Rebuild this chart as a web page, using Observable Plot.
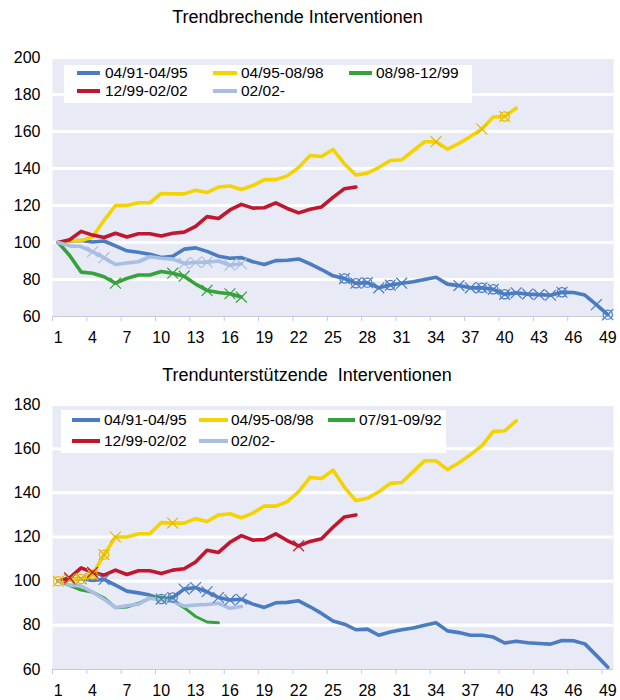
<!DOCTYPE html>
<html><head><meta charset="utf-8">
<script src="https://cdn.jsdelivr.net/npm/d3@7"></script>
<script src="https://cdn.jsdelivr.net/npm/@observablehq/plot@0.6"></script>
<style>
body{margin:0;background:#fff;font-family:"Liberation Sans",Arial,sans-serif;}
#wrap{position:relative;width:620px;height:700px;overflow:hidden;}
.title{position:absolute;left:0;font-size:18px;line-height:18px;color:#000;white-space:pre;text-align:center;}
.legend{position:absolute;background:#fff;}
.item{position:absolute;height:18px;display:flex;align-items:center;font-size:15.5px;color:#000;white-space:nowrap;}
.sw{display:inline-block;height:4px;}
.chart{position:absolute;left:0;}
</style></head><body><div id="wrap"></div>
<script>
// ---- data ----
const xLabels = [1,4,7,10,13,16,19,22,25,28,31,34,37,40,43,46,49];
const yTicksTop = [60,80,100,120,140,160,180,200];
const yTicksBottom = [60,80,100,120,140,160,180];

const names = ["04/91-04/95","04/95-08/98","08/98-12/99","12/99-02/02","02/02-","07/91-09/92"];
const colors = ["#4a7cc2","#f4d300","#36a33a","#c0172f","#a8bee2","#36a33a"];

const s9195 = [100,100.8,101.1,100.3,100.8,98.2,95.5,94.7,93.7,91.9,
  92.6,96.4,97.1,95.2,92.6,91.5,91.8,89.6,88.1,90.2,
  90.4,91.1,88.4,85.4,82,80.5,78,78.3,75.5,77,
  78,78.8,80,81.2,77.5,76.7,75.5,75.5,74.7,72,
  72.8,72.1,71.8,71.5,73.1,73,71.6,66.4,61];
const s9598 = [100,101,101,103,112,120,120,121.5,121.5,126.5,
  126.3,126.3,128.3,127,130,130.5,128.7,130.8,134,134,
  136,140.5,147,146.5,150.3,142.5,136.5,137.5,140.5,144.3,
  144.7,149.6,154.5,154.5,150.5,153.6,157.3,161.3,167.8,168.1,172.6];
const s9899 = [100,93,84,83.4,81.5,78,80.6,82.4,82.4,84.3,83.4,81.8,77.5,74.1,73,72.3,70.5];
const s9902 = [100,101.5,106,104,102.7,105,103,104.7,104.7,103.5,
  105,105.6,108.7,114,113,117.6,120.6,118.6,118.8,121.4,
  118.4,116,118,119.2,124.4,129.1,130];
const s02 = [100,98.2,97.8,95,91.8,88.1,88.9,89.6,92.3,91.5,91,88.7,89.2,89.4,90,87.7,88.5];
const s9192 = [100,98,96,95,92.5,88,88.3,90,92.3,92.8,91.2,88,84,81.5,81.2];

// intervention markers (period index): "x" and "circle with x"
const topBlueX = [29,31,36,37,41,42,43,44,48];
const topBlueO = [26,27,28,30,38,39,40,45,49];
const topYellowX = [34,38];
const topYellowO = [40];
const topGreenX = [6,11,12,14,16,17];
const topLightX = [4,5,12,13,14,16,17];
const botYellowX = [2,6,11];
const botYellowO = [1,3,4,5];
const botRedX = [2,4,22];
const botBlueX = [2,3,5,12,13,14,15,16,17];
const botBlueO = [10,11];

// ---- helpers ----
const toRows = (vals) => vals.map((v, i) => ({x: i + 1, y: v}));
const pick = (vals, idx) => idx.map(i => ({x: i, y: vals[i - 1]}));
const xBounds = xLabels.map(d => d - 0.5);

function chart({series, markers, yDomain, yTicks, height, marginTop, marginBottom}) {
  const marks = [
    Plot.frame({fill: "#e8eaf6", stroke: null}),
    Plot.ruleY(yTicks.filter(d => d > yDomain[0]), {stroke: "#ffffff", strokeWidth: 3}),
    Plot.ruleY([yDomain[0]], {stroke: "#c6c9de", strokeWidth: 1.2}),
    Plot.axisX(xBounds, {tickSize: 5, tickFormat: () => "", stroke: "#c6c9de", label: null}),
    Plot.axisX(xLabels, {tickSize: 0, tickPadding: 15, label: null, fill: "#000"}),
    Plot.axisY(yTicks, {tickSize: 0, tickPadding: 12, label: null, fill: "#000"})
  ];
  for (const s of series) {
    marks.push(Plot.line(toRows(s.vals), {x: "x", y: "y", stroke: s.color, strokeWidth: s.w || 3.6, curve: "linear"}));
  }
  for (const m of markers) {
    if (m.x) marks.push(Plot.dot(pick(m.vals, m.x), {x: "x", y: "y", symbol: "times", r: 5, stroke: m.color, strokeWidth: 1.2}));
    if (m.o) {
      marks.push(Plot.dot(pick(m.vals, m.o), {x: "x", y: "y", symbol: "times", r: 5, stroke: m.color, strokeWidth: 1.2}));
      marks.push(Plot.dot(pick(m.vals, m.o), {x: "x", y: "y", symbol: "circle", r: 4.6, stroke: m.color, fill: "none", strokeWidth: 1.2}));
    }
  }
  return Plot.plot({
    width: 620, height, marginLeft: 52, marginRight: 7, marginTop, marginBottom,
    x: {domain: [0.5, 49.5]},
    y: {domain: yDomain},
    style: {fontFamily: '"Liberation Sans", Arial, sans-serif', fontSize: "16px", color: "#000", background: "transparent", overflow: "visible"},
    marks
  });
}

function legend(box, cols, rows, items) {
  const lg = document.createElement("div");
  lg.className = "legend";
  Object.assign(lg.style, {left: box[0] + "px", top: box[1] + "px", width: box[2] + "px", height: box[3] + "px"});
  items.forEach((it, k) => {
    const c = cols[k % 3], r = rows[Math.floor(k / 3)];
    const d = document.createElement("div");
    d.className = "item";
    d.style.left = (c[0] - box[0]) + "px";
    d.style.top = (r - box[1] - 9) + "px";
    const sw = document.createElement("span");
    sw.className = "sw";
    sw.style.width = c[1] + "px";
    sw.style.background = it.color;
    sw.style.marginRight = c[2] + "px";
    d.appendChild(sw);
    d.appendChild(document.createTextNode(it.name));
    lg.appendChild(d);
  });
  return lg;
}

const wrap = document.getElementById("wrap");
function place(el, top) {
  const d = document.createElement("div");
  d.className = "chart";
  d.style.top = top + "px";
  d.appendChild(el);
  wrap.appendChild(d);
}
function title(text, top, width) {
  const t = document.createElement("div");
  t.className = "title";
  t.style.top = top + "px";
  t.style.width = width + "px";
  t.textContent = text;
  wrap.appendChild(t);
}

// ---- top chart ----
title("Trendbrechende Interventionen", 8, 595);
place(chart({
  series: [
    {vals: s9195, color: colors[0]},
    {vals: s9598, color: colors[1]},
    {vals: s9899, color: colors[2]},
    {vals: s9902, color: colors[3]},
    {vals: s02, color: colors[4]}
  ],
  markers: [
    {vals: s9195, color: colors[0], x: topBlueX, o: topBlueO},
    {vals: s9598, color: "#e8b800", x: topYellowX, o: topYellowO},
    {vals: s9899, color: colors[2], x: topGreenX},
    {vals: s02, color: colors[4], x: topLightX}
  ],
  yDomain: [60, 200], yTicks: yTicksTop, height: 310, marginTop: 17, marginBottom: 34
}), 40);
wrap.appendChild(legend([64, 65, 408, 38], [[77, 23, 5], [213, 24, 4], [349, 23, 4]], [72.5, 91], [
  {name: names[0], color: colors[0]}, {name: names[1], color: colors[1]}, {name: names[2], color: colors[2]},
  {name: names[3], color: colors[3]}, {name: names[4], color: colors[4]}
]));

// ---- bottom chart ----
title("Trendunterstützende  Interventionen", 366, 614);
place(chart({
  series: [
    {vals: s9195, color: colors[0]},
    {vals: s9598, color: colors[1]},
    {vals: s9192, color: colors[5], w: 3},
    {vals: s9902, color: colors[3]},
    {vals: s02, color: colors[4]}
  ],
  markers: [
    {vals: s9195, color: colors[0], x: botBlueX, o: botBlueO},
    {vals: s9598, color: "#e8b800", x: botYellowX, o: botYellowO},
    {vals: s9902, color: colors[3], x: botRedX}
  ],
  yDomain: [60, 180], yTicks: yTicksBottom, height: 309, marginTop: 14, marginBottom: 30
}), 390);
wrap.appendChild(legend([61, 410, 385, 43], [[72, 28, 4], [199, 29, 3], [328, 27, 4]], [419.5, 441], [
  {name: names[0], color: colors[0]}, {name: names[1], color: colors[1]}, {name: names[5], color: colors[5]},
  {name: names[3], color: colors[3]}, {name: names[4], color: colors[4]}
]));
</script></body></html>
